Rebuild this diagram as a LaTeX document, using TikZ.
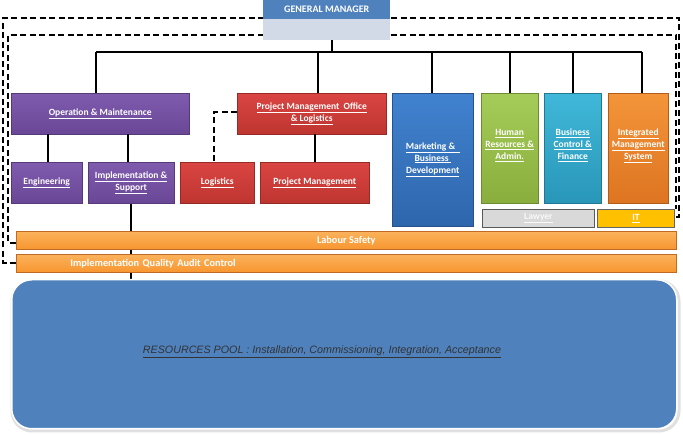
\documentclass[tikz,border=0pt]{standalone}
\usepackage{fontspec}
\setmainfont{Carlito}
\newfontfamily\poolfont{Liberation Sans}
\definecolor{cpurple}{HTML}{7F5BAE}
\definecolor{cpurpleD}{HTML}{6A4796}
\definecolor{cred}{HTML}{DA4542}
\definecolor{credD}{HTML}{BE3530}
\definecolor{cblue}{HTML}{4182CF}
\definecolor{cblueD}{HTML}{2E66AC}
\definecolor{cgreen}{HTML}{A5CB58}
\definecolor{cgreenD}{HTML}{89AE3D}
\definecolor{ccyan}{HTML}{40B8D9}
\definecolor{ccyanD}{HTML}{2996B8}
\definecolor{corange}{HTML}{F4953A}
\definecolor{corangeD}{HTML}{DD7421}
\definecolor{cbar}{HTML}{F7962F}
\definecolor{cbarL}{HTML}{FBB25C}
\definecolor{cbarE}{HTML}{C06A25}
\definecolor{gmtop}{HTML}{4F81BD}
\definecolor{gmbot}{HTML}{D3DAE7}
\definecolor{pool}{HTML}{4F81BD}
\definecolor{lawfill}{HTML}{D9D9D9}
\definecolor{itfill}{HTML}{FFC000}
\tikzset{
  unit/.style={rectangle, inner sep=1pt, anchor=north west, align=center,
    text=white, font=\fontsize{9.5}{12}\selectfont\bfseries},
  purplebox/.style={unit, top color=cpurple, bottom color=cpurpleD, draw=cpurpleD!80!black, line width=0.4pt},
  redbox/.style={unit, top color=cred, bottom color=credD, draw=credD!80!black, line width=0.4pt},
  bluebox/.style={unit, top color=cblue, bottom color=cblueD, draw=cblueD!80!black, line width=0.4pt},
  greenbox/.style={unit, top color=cgreen, bottom color=cgreenD, draw=cgreenD!80!black, line width=0.4pt},
  cyanbox/.style={unit, top color=ccyan, bottom color=ccyanD, draw=ccyanD!80!black, line width=0.4pt},
  orangebox/.style={unit, top color=corange, bottom color=corangeD, draw=corangeD!80!black, line width=0.4pt},
  barbox/.style={unit, top color=cbarL, bottom color=cbar, draw=cbarE, line width=0.6pt,
    font=\fontsize{10.3}{12}\selectfont\bfseries},
  link/.style={line width=2.4pt, black},
  dashlink/.style={line width=1.3pt, black, dash pattern=on 6pt off 3.5pt},
}
\begin{document}
\begin{tikzpicture}[x=1pt,y=-1pt]
\useasboundingbox (0,0) rectangle (683,435);
% dashed frames
\draw[dashlink] (16,263) -- (3,263) -- (3,18) -- (679,18) -- (679,217) -- (674,217);
\draw[dashlink] (16,243) -- (8,243) -- (8,35) -- (676,35) -- (676,209);
% general manager
\node[rectangle, anchor=north west, fill=gmbot, minimum width=127pt, minimum height=40pt, inner sep=0pt] (gm) at (263,0) {};
\node[rectangle, anchor=north west, fill=gmtop, minimum width=127pt, minimum height=19pt, inner sep=0pt,
  text=white, font=\fontsize{10}{12}\selectfont\bfseries] (gmt) at (263,0) {GENERAL MANAGER};
% hierarchy bar
\coordinate (hb) at (332,52);
\draw[link] (gm.south -| hb) -- (hb);
\draw[link] (96,52) -- (642,52);
% impl line to pool (under bars)
\draw[line width=2.4pt] (131,203) -- (131,279);
% top-level units
\node[purplebox, minimum width=178pt, minimum height=41pt] (om) at (11,93) {\underline{Operation \& Maintenance}};
\node[redbox, minimum width=149pt, minimum height=41pt] (pmo) at (237,93) {\underline{Project Management\ \ Office}\\\underline{\& Logistics}};
\node[bluebox, minimum width=81pt, minimum height=133pt] (mkt) at (392,93) {\underline{Marketing \&\ \ }\\\underline{Business\ }\\\underline{Development}\\[-8pt]};
\node[greenbox, minimum width=57pt, minimum height=110pt] (hr) at (481,93) {\underline{Human}\\\underline{Resources \&}\\\underline{Admin.}\\[-4pt]};
\node[cyanbox, minimum width=57pt, minimum height=110pt] (bcf) at (544,93) {\underline{Business}\\\underline{Control \&}\\\underline{Finance}\\[-4pt]};
\node[orangebox, minimum width=60pt, minimum height=110pt] (ims) at (608,93) {\underline{Integrated}\\\underline{Management}\\\underline{System}\\[-4pt]};
\node[unit, fill=lawfill, draw=black!65, line width=0.8pt, minimum width=112pt, minimum height=18pt, text=white!95!gray] (law) at (482,209) {\underline{Lawyer}};
\node[unit, fill=itfill, draw=black!60, line width=0.8pt, minimum width=77pt, minimum height=18pt] (it) at (597,209) {\underline{IT}};
\foreach \x/\n in {96/om, 318/pmo, 432/mkt, 510/hr, 573/bcf, 642/ims}
  \draw[link] (\x,52) -- (\n.north -| \x,52);
% second level
\node[purplebox, minimum width=71pt, minimum height=41pt] (eng) at (11,162) {\underline{Engineering}};
\node[purplebox, minimum width=86pt, minimum height=41pt] (imp) at (88,162) {\underline{Implementation \&}\\\underline{Support}};
\node[redbox, minimum width=74pt, minimum height=41pt] (log) at (180,162) {\underline{Logistics}};
\node[redbox, minimum width=109pt, minimum height=41pt] (pm) at (260,162) {\underline{Project Management}};
\draw[link] (om.south -| 48,0) -- (eng.north -| 48,0);
\draw[link] (om.south -| 128,0) -- (imp.north -| 128,0);
\draw[link] (pmo.south -| 315,0) -- (pm.north -| 315,0);
\draw[dashlink] (pmo.west |- 0,112) -- (214,112) -- (log.north -| 214,0);
% bars
\node[barbox, minimum width=660pt, minimum height=18pt] (ls) at (16,231) {Labour Safety};
\node[barbox, minimum width=660pt, minimum height=18pt, text width=652pt, align=left] (qa) at (16,254) {\hspace*{50pt}Implementation Quality Audit Control};
% resources pool
\draw[line width=3pt, black!12, rounded corners=20pt] (12,281) rectangle (679,431);
\node[rectangle, anchor=north west, fill=pool, draw=white, line width=1.5pt, rounded corners=20pt,
  minimum width=665pt, minimum height=149pt, inner sep=0pt] (rp) at (11,279) {};
\node[anchor=center, text=black!80, font=\poolfont\fontsize{10.7}{12}\selectfont\itshape] (rpt) at (322,352)
  {\underline{RESOURCES POOL : Installation, Commissioning, Integration, Acceptance}};
\end{tikzpicture}
\end{document}
